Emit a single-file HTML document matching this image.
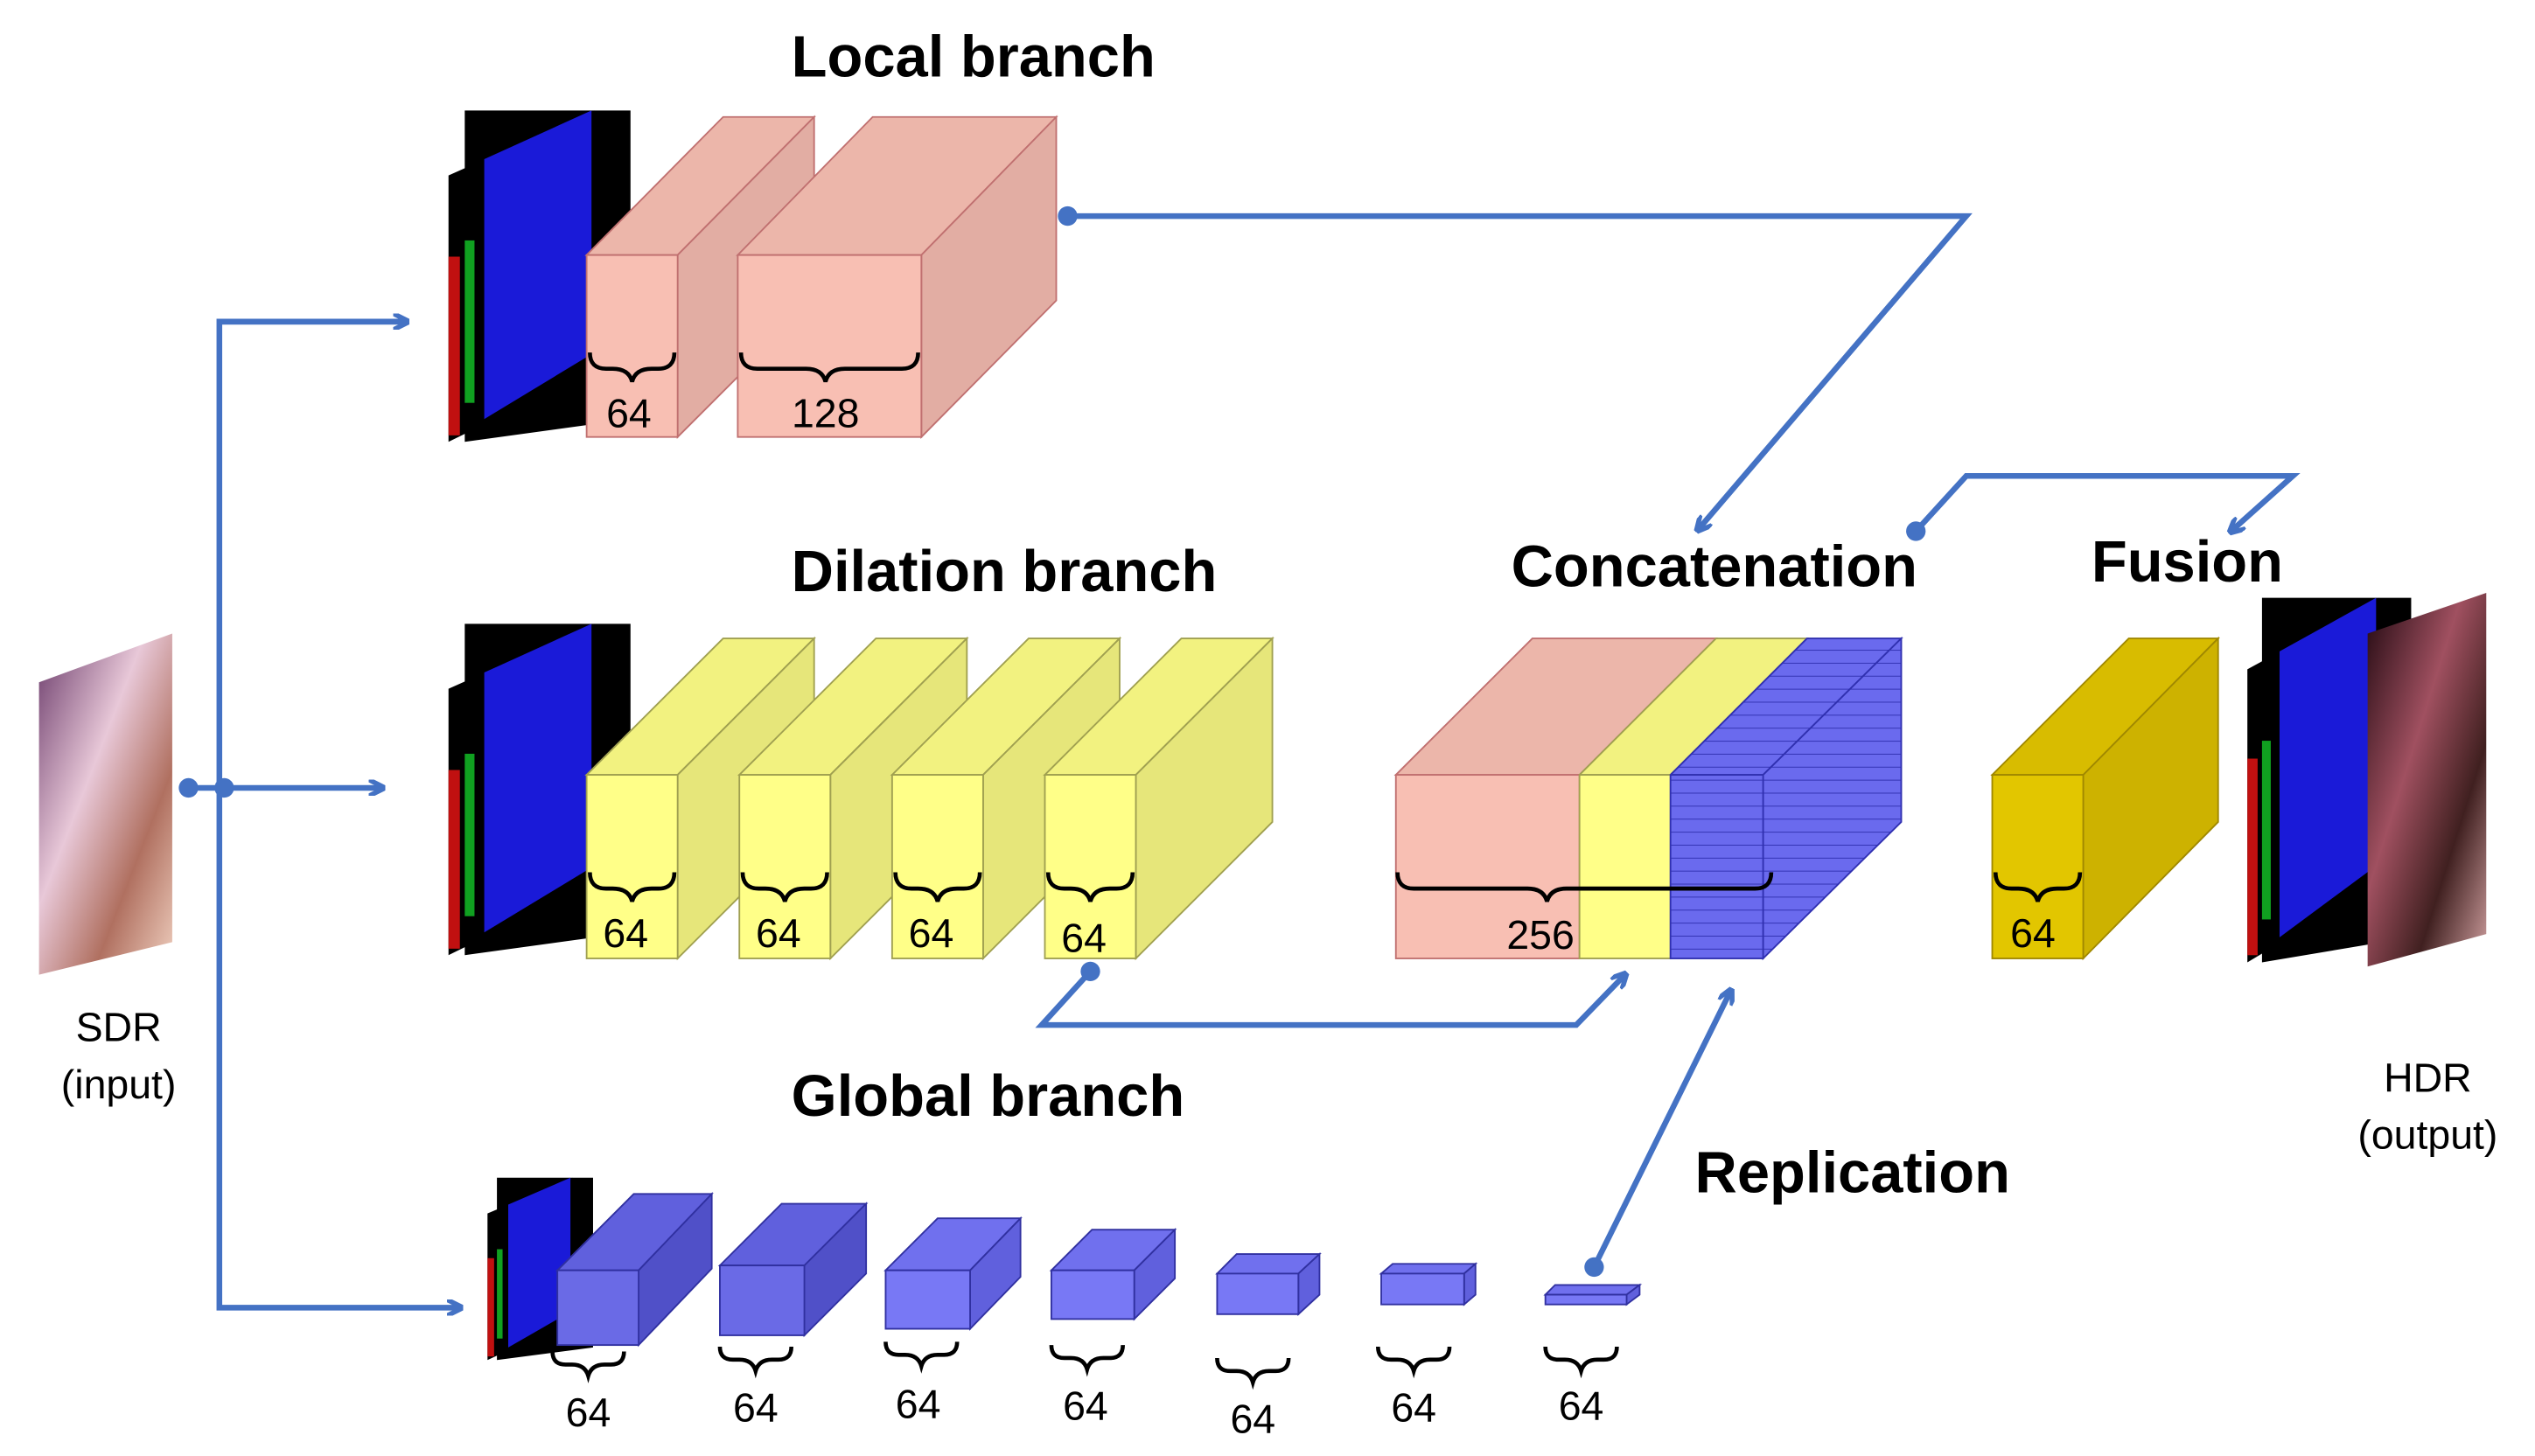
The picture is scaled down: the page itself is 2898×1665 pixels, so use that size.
<!DOCTYPE html>
<html><head><meta charset="utf-8"><style>
html,body{margin:0;padding:0;background:#fff}
svg{display:block}
text{font-family:"Liberation Sans",sans-serif}
.t{font-family:"Liberation Sans",sans-serif;font-weight:bold;font-size:36px}
.n{font-size:25px}
</style></head><body>
<svg width="2898" height="1665" viewBox="0 0 1560 896.3" preserveAspectRatio="none" xmlns="http://www.w3.org/2000/svg">
<defs>
<marker id="ar" markerWidth="10" markerHeight="10" refX="8" refY="5" orient="auto" markerUnits="userSpaceOnUse"><path d="M0,0 L10,5 L0,10" fill="none" stroke="#4472c4" stroke-width="3"/></marker>
<linearGradient id="sdr" x1="0" y1="0" x2="1" y2="1"><stop offset="0" stop-color="#6a3a6a"/><stop offset=".4" stop-color="#e8c8d8"/><stop offset=".7" stop-color="#b07060"/><stop offset="1" stop-color="#f0d0c0"/></linearGradient>
<linearGradient id="hdr" x1="0" y1="0" x2="1" y2="1"><stop offset="0" stop-color="#200810"/><stop offset=".4" stop-color="#a05060"/><stop offset=".7" stop-color="#402020"/><stop offset="1" stop-color="#d0a0a0"/></linearGradient>
<pattern id="grid" width="8" height="8" patternUnits="userSpaceOnUse"><rect width="8" height="8" fill="#6a6aee"/><path d="M0,0 H8" stroke="#3030b0" stroke-width="1"/></pattern>
<g id="fmap">
<polygon points="10,0 112,0 112,190 10,204" fill="#000"/>
<polygon points="0,40 90,0 90,160 0,204" fill="#000"/>
<polygon points="22,30 88,0 88,150 22,190" fill="#1a1ad8"/>
<rect x="0" y="90" width="7" height="110" fill="#c01010"/>
<rect x="10" y="80" width="6" height="100" fill="#10a020"/>
</g>
</defs>

<text class="t" x="487" y="47">Local branch</text>
<text class="t" x="487" y="364">Dilation branch</text>
<text class="t" x="930" y="361">Concatenation</text>
<text class="t" x="1287" y="358">Fusion</text>
<text class="t" x="487" y="687">Global branch</text>
<text class="t" x="1043" y="734">Replication</text>

<polygon points="24,420 106,390 106,580 24,600" fill="url(#sdr)"/>
<text class="n" x="73" y="641" text-anchor="middle">SDR</text>
<text class="n" x="73" y="676" text-anchor="middle">(input)</text>
<g transform="translate(1383,368) scale(0.9,1.1)"><use href="#fmap"/></g>
<polygon points="1457,390 1530,365 1530,575 1457,595" fill="url(#hdr)"/>
<text class="n" x="1494" y="672" text-anchor="middle">HDR</text>
<text class="n" x="1494" y="707" text-anchor="middle">(output)</text>

<use href="#fmap" transform="translate(276,68)"/>
<use href="#fmap" transform="translate(276,384)"/>
<g transform="translate(300,725) scale(0.58,0.55)"><use href="#fmap"/></g>

<g stroke="#c07070" stroke-width="1">
<polygon points="361,157 445,72 501,72 417,157" fill="#ecb6aa"/>
<polygon points="417,157 501,72 501,185 417,269" fill="#e2ada3"/>
<rect x="361" y="157" width="56" height="112" fill="#f8bfb3"/>
<polygon points="454,157 537,72 650,72 567,157" fill="#ecb6aa"/>
<polygon points="567,157 650,72 650,185 567,269" fill="#e2ada3"/>
<rect x="454" y="157" width="113" height="112" fill="#f8bfb3"/>
</g>
<g stroke="#a0a050" stroke-width="1">
<polygon points="361,477 445,393 501,393 417,477" fill="#f2f280"/><polygon points="417,477 501,393 501,506 417,590" fill="#e6e67a"/><rect x="361" y="477" width="56" height="113" fill="#ffff88"/>
<polygon points="455,477 539,393 595,393 511,477" fill="#f2f280"/><polygon points="511,477 595,393 595,506 511,590" fill="#e6e67a"/><rect x="455" y="477" width="56" height="113" fill="#ffff88"/>
<polygon points="549,477 633,393 689,393 605,477" fill="#f2f280"/><polygon points="605,477 689,393 689,506 605,590" fill="#e6e67a"/><rect x="549" y="477" width="56" height="113" fill="#ffff88"/>
<polygon points="643,477 727,393 783,393 699,477" fill="#f2f280"/><polygon points="699,477 783,393 783,506 699,590" fill="#e6e67a"/><rect x="643" y="477" width="56" height="113" fill="#ffff88"/>
</g>
<g stroke-width="1">
<polygon points="859,477 943,393 1056,393 972,477" fill="#ecb6aa" stroke="#c07070"/>
<polygon points="972,477 1056,393 1112,393 1028,477" fill="#f2f280" stroke="#a0a050"/>
<polygon points="1028,477 1112,393 1170,393 1085,477" fill="url(#grid)" stroke="#3030b0"/>
<polygon points="1085,477 1170,393 1170,506 1085,590" fill="url(#grid)" stroke="#3030b0"/>
<rect x="859" y="477" width="113" height="113" fill="#f8bfb3" stroke="#c07070"/>
<rect x="972" y="477" width="56" height="113" fill="#ffff88" stroke="#a0a050"/>
<rect x="1028" y="477" width="57" height="113" fill="url(#grid)" stroke="#3030b0"/>
</g>
<g stroke="#a08800" stroke-width="1">
<polygon points="1226,477 1310,393 1365,393 1282,477" fill="#d8bc00"/>
<polygon points="1282,477 1365,393 1365,506 1282,590" fill="#cdb200"/>
<rect x="1226" y="477" width="56" height="113" fill="#e2c600"/>
</g>
<g stroke="#3030a0" stroke-width="1">
<polygon points="343,782 390,735 438,735 393,782" fill="#6060dd"/><polygon points="393,782 438,735 438,781 393,828" fill="#5050c8"/><rect x="343" y="782" width="50" height="46" fill="#6a6ae6"/>
<polygon points="443,779 481,741 533,741 495,779" fill="#6060dd"/><polygon points="495,779 533,741 533,784 495,822" fill="#5050c8"/><rect x="443" y="779" width="52" height="43" fill="#6a6ae6"/>
<polygon points="545,782 577,750 628,750 597,782" fill="#7070ee"/><polygon points="597,782 628,750 628,786 597,818" fill="#6060dd"/><rect x="545" y="782" width="52" height="36" fill="#7878f5"/>
<polygon points="647,782 672,757 723,757 698,782" fill="#7070ee"/><polygon points="698,782 723,757 723,787 698,812" fill="#6060dd"/><rect x="647" y="782" width="51" height="30" fill="#7878f5"/>
<polygon points="749,784 761,772 812,772 799,784" fill="#7070ee"/><polygon points="799,784 812,772 812,797 799,809" fill="#6060dd"/><rect x="749" y="784" width="50" height="25" fill="#7878f5"/>
<polygon points="850,784 857,778 908,778 901,784" fill="#7070ee"/><polygon points="901,784 908,778 908,797 901,803" fill="#6060dd"/><rect x="850" y="784" width="51" height="19" fill="#7878f5"/>
<polygon points="951,797 957,791 1009,791 1001,797" fill="#7070ee"/><polygon points="1001,797 1009,791 1009,797 1001,803" fill="#6060dd"/><rect x="951" y="797" width="50" height="6" fill="#7878f5"/>
</g>

<g fill="none" stroke="#000" stroke-width="2.5">
<path d="M363,217 q0,10 10,10 h4 q10,0 12,8 q2,-8 12,-8 h4 q10,0 10,-10"/>
<path d="M456,217 q0,10 10,10 h30 q10,0 12,8 q2,-8 12,-8 h35 q10,0 10,-10"/>
<path d="M363,537 q0,10 10,10 h4 q10,0 12,8 q2,-8 12,-8 h4 q10,0 10,-10"/>
<path d="M457,537 q0,10 10,10 h4 q10,0 12,8 q2,-8 12,-8 h4 q10,0 10,-10"/>
<path d="M551,537 q0,10 10,10 h4 q10,0 12,8 q2,-8 12,-8 h4 q10,0 10,-10"/>
<path d="M645,537 q0,10 10,10 h4 q10,0 12,8 q2,-8 12,-8 h4 q10,0 10,-10"/>
<path d="M860,537 q0,10 10,10 h70 q10,0 12,8 q2,-8 12,-8 h116 q10,0 10,-10"/>
<path d="M1228,537 q0,10 10,10 h4 q10,0 12,8 q2,-8 12,-8 h4 q10,0 10,-10"/>
<path d="M340,832 q0,8 8,8 h4 q8,0 10,7 q2,-7 10,-7 h4 q8,0 8,-8"/>
<path d="M443,829 q0,8 8,8 h4 q8,0 10,7 q2,-7 10,-7 h4 q8,0 8,-8"/>
<path d="M545,826 q0,8 8,8 h4 q8,0 10,7 q2,-7 10,-7 h4 q8,0 8,-8"/>
<path d="M647,828 q0,8 8,8 h4 q8,0 10,7 q2,-7 10,-7 h4 q8,0 8,-8"/>
<path d="M749,836 q0,8 8,8 h4 q8,0 10,7 q2,-7 10,-7 h4 q8,0 8,-8"/>
<path d="M848,829 q0,8 8,8 h4 q8,0 10,7 q2,-7 10,-7 h4 q8,0 8,-8"/>
<path d="M951,829 q0,8 8,8 h4 q8,0 10,7 q2,-7 10,-7 h4 q8,0 8,-8"/>
</g>
<g class="n" text-anchor="middle">
<text x="387" y="263">64</text><text x="508" y="263">128</text>
<text x="385" y="583">64</text><text x="479" y="583">64</text><text x="573" y="583">64</text><text x="667" y="586">64</text>
<text x="948" y="584">256</text><text x="1251" y="583">64</text>
<text x="362" y="878">64</text><text x="465" y="875">64</text><text x="565" y="873">64</text><text x="668" y="874">64</text><text x="771" y="882">64</text><text x="870" y="875">64</text><text x="973" y="874">64</text>
</g>

<g fill="none" stroke="#4472c4" stroke-width="3.5">
<path d="M116,485 H235" marker-end="url(#ar)"/>
<path d="M250,198 H135 V805 H283" marker-end="url(#ar)"/>
<path d="M135,198 H250" marker-end="url(#ar)"/>
<path d="M657,133 H1210 L1045,326" marker-end="url(#ar)"/>
<path d="M1179,327 L1210,293 H1411 L1373,327" marker-end="url(#ar)"/>
<path d="M671,598 L641,631 H970 L1000,600" marker-end="url(#ar)"/>
<path d="M981,780 L1065,610" marker-end="url(#ar)"/>
</g>
<g fill="#4472c4">
<circle cx="116" cy="485" r="6"/><circle cx="138" cy="485" r="6"/>
<circle cx="657" cy="133" r="6"/><circle cx="1179" cy="327" r="6"/>
<circle cx="671" cy="598" r="6"/><circle cx="981" cy="780" r="6"/>
</g>
</svg>
</body></html>
